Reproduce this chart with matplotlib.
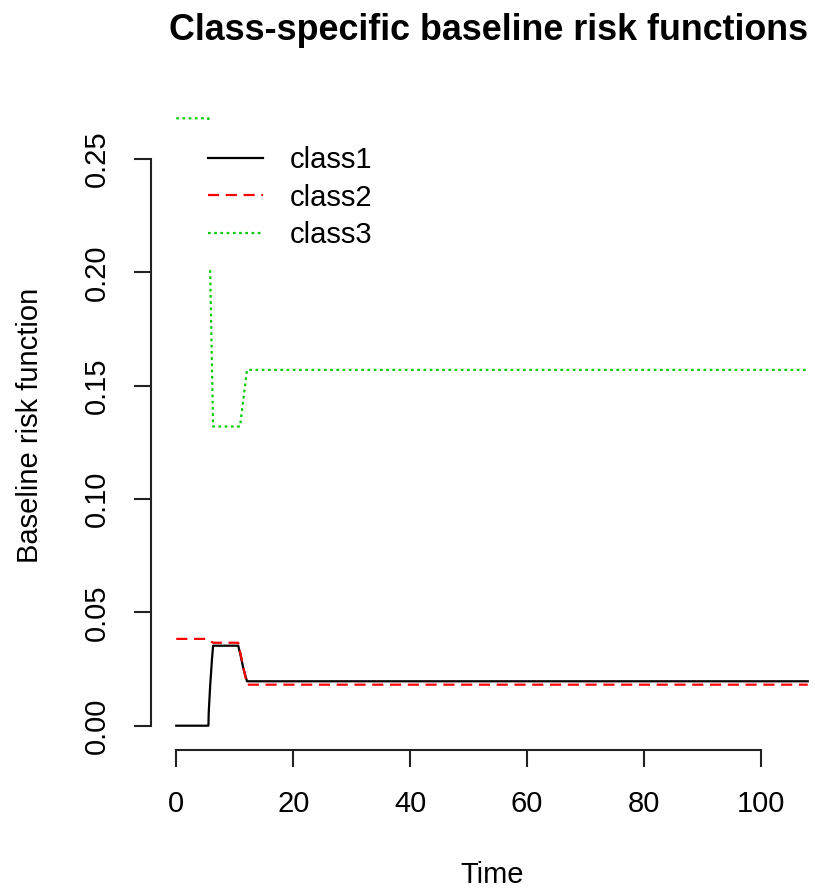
import numpy as np
import matplotlib
matplotlib.use('Agg')
import matplotlib.pyplot as plt

plt.rcParams['font.family'] = ['Liberation Sans', 'DejaVu Sans']

# dados
t1 = [0, 5.5, 5.55, 5.8, 6.1, 6.3, 10.6, 11.0, 11.5, 12.1, 108]
class1 = [0, 0, 0.0057, 0.0177, 0.029, 0.0353, 0.0353, 0.031, 0.025, 0.0196, 0.0196]

t2 = [0, 5.2, 6.3, 10.6, 12.1, 108]
class2 = [0.0383, 0.0383, 0.0366, 0.0366, 0.0181, 0.0181]

t3 = [0, 5.5, 5.55, np.nan, 5.8, 6.3, 10.9, 12.1, 108]
class3 = [0.268, 0.268, 0.266, np.nan, 0.201, 0.132, 0.132, 0.157, 0.157]

xticks = [0, 20, 40, 60, 80, 100]
yticks = [0.00, 0.05, 0.10, 0.15, 0.20, 0.25]

W, H = 815, 892
fig = plt.figure(figsize=(W / 100, H / 100), dpi=100)
ax = fig.add_axes([151 / W, 1 - 750 / H, (833 - 151) / W, (750 - 94) / H])

ax.plot(t1, class1, color='black', lw=1.6, label='class1')
ax.plot(t2, class2, color='#FF0000', lw=1.6, dashes=(5, 3), label='class2')
ax.plot(t3, class3, color='#00CD00', lw=1.6, dashes=(1.2, 1.6), label='class3')

# escala estilo R (4% de folga)
ax.set_xlim(0 - 0.04 * 108, 108 + 0.04 * 108)
ax.set_ylim(0 - 0.04 * 0.268, 0.268 + 0.04 * 0.268)

for s in ['top', 'right']:
    ax.spines[s].set_visible(False)
ax.spines['left'].set_bounds(0, 0.25)
ax.spines['bottom'].set_bounds(0, 100)
for s in ['left', 'bottom']:
    ax.spines[s].set_linewidth(1.5)
    ax.spines[s].set_color('#222222')

ax.set_xticks(xticks)
ax.set_xticklabels([str(x) for x in xticks])
ax.set_yticks(yticks)
ax.set_yticklabels(['%.2f' % y for y in yticks], rotation=90, va='center')
ax.tick_params(axis='both', length=12, width=1.5, color='#222222',
               labelsize=21, pad=17)

fig.text(30 / W, 1 - 425 / H, 'Baseline risk function', rotation=90,
         ha='center', va='center', fontsize=21)
fig.text(492 / W, 1 - 875 / H, 'Time', ha='center', va='center', fontsize=21)
fig.text(489 / W, 1 - 31 / H, 'Class-specific baseline risk functions',
         ha='center', va='center', fontsize=25.8, fontweight='bold')

ax.legend(loc='upper left', bbox_to_anchor=(208 / W, 1 - 146 / H),
          bbox_transform=fig.transFigure, frameon=False, fontsize=21,
          handlelength=1.9, handletextpad=0.9, labelspacing=0.33,
          borderpad=0, borderaxespad=0)

plt.savefig('out.png', dpi=100)
